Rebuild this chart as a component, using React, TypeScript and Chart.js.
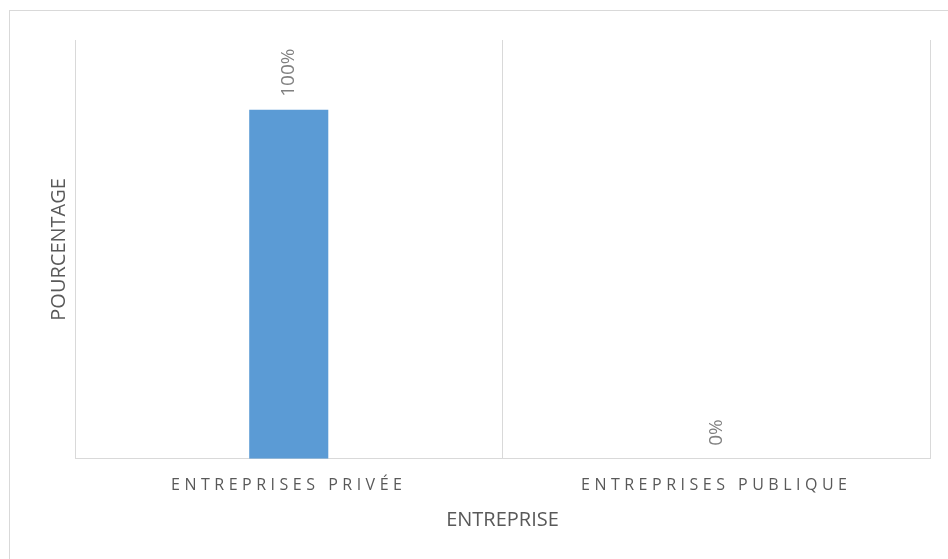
import React, { useEffect, useRef } from "react";
import { Chart, registerables } from "chart.js";

Chart.register(...registerables);

const categories: string[] = ["ENTREPRISES PRIVÉE", "ENTREPRISES PUBLIQUE"];
const percentages: number[] = [100, 0];
const dataLabels: string[] = ["100%", "0%"];
const xTitle = "ENTREPRISE";
const yTitle = "POURCENTAGE";
const yMax = 120;

const FONT = "'Open Sans', 'DejaVu Sans', sans-serif";

const labelPlugin = {
  id: "barLabelsAndSpacing",
  afterDatasetsDraw(chart: any) {
    const ctx = chart.ctx;
    const meta = chart.getDatasetMeta(0);
    ctx.save();
    ctx.font = `19px ${FONT}`;
    ctx.fillStyle = "#808080";
    ctx.textAlign = "left";
    ctx.textBaseline = "middle";
    meta.data.forEach((bar: any, i: number) => {
      ctx.save();
      ctx.translate(bar.x, bar.y - 13);
      ctx.rotate(-Math.PI / 2);
      ctx.fillText(dataLabels[i], 0, 0);
      ctx.restore();
    });
    ctx.restore();
    // letter spacing for category tick labels (drawn after datasets, z = 1)
    (ctx as any).letterSpacing = "4.5px";
  },
  afterDraw(chart: any) {
    (chart.ctx as any).letterSpacing = "0px";
  },
};

export default function App() {
  const canvasRef = useRef<HTMLCanvasElement | null>(null);

  useEffect(() => {
    if (!canvasRef.current) return;
    const chart = new Chart(canvasRef.current, {
      type: "bar",
      data: {
        labels: categories,
        datasets: [
          {
            data: percentages,
            backgroundColor: "#5b9bd5",
            borderWidth: 0,
            categoryPercentage: 1,
            barPercentage: 0.185,
          },
        ],
      },
      options: {
        animation: false,
        responsive: true,
        maintainAspectRatio: false,
        layout: { padding: { left: 43, right: 18, top: 40, bottom: 23 } },
        plugins: {
          legend: { display: false },
          tooltip: { enabled: false },
        },
        scales: {
          x: {
            grid: {
              display: true,
              color: "#d9d9d9",
              lineWidth: 1,
              drawTicks: false,
              offset: true,
            },
            border: { display: true, color: "#d9d9d9", width: 1 },
            ticks: {
              z: 1,
              color: "#595959",
              font: { family: FONT, size: 16 },
              padding: 17,
              autoSkip: false,
              maxRotation: 0,
              minRotation: 0,
            },
            title: {
              display: true,
              text: xTitle,
              color: "#595959",
              font: { family: FONT, size: 20 },
              padding: { top: -4, bottom: 4 },
            },
          },
          y: {
            min: 0,
            max: yMax,
            grid: { display: false, drawTicks: false },
            border: { display: false },
            ticks: { display: false },
            title: {
              display: true,
              text: yTitle,
              color: "#595959",
              font: { family: FONT, size: 20 },
              padding: { top: 4, bottom: 4 },
            },
          },
        },
      },
      plugins: [labelPlugin],
    });
    return () => chart.destroy();
  }, []);

  return (
    <div
      style={{
        position: "absolute",
        left: 0,
        top: 0,
        width: 948,
        height: 559,
        background: "#ffffff",
      }}
    >
      <div
        style={{
          position: "absolute",
          left: 9,
          top: 10,
          width: 939,
          height: 549,
          borderTop: "1px solid #d9d9d9",
          borderLeft: "1px solid #d9d9d9",
          boxSizing: "border-box",
        }}
      />
      <div style={{ position: "absolute", left: 0, top: 0, width: 948, height: 559 }}>
        <canvas ref={canvasRef} />
      </div>
    </div>
  );
}
